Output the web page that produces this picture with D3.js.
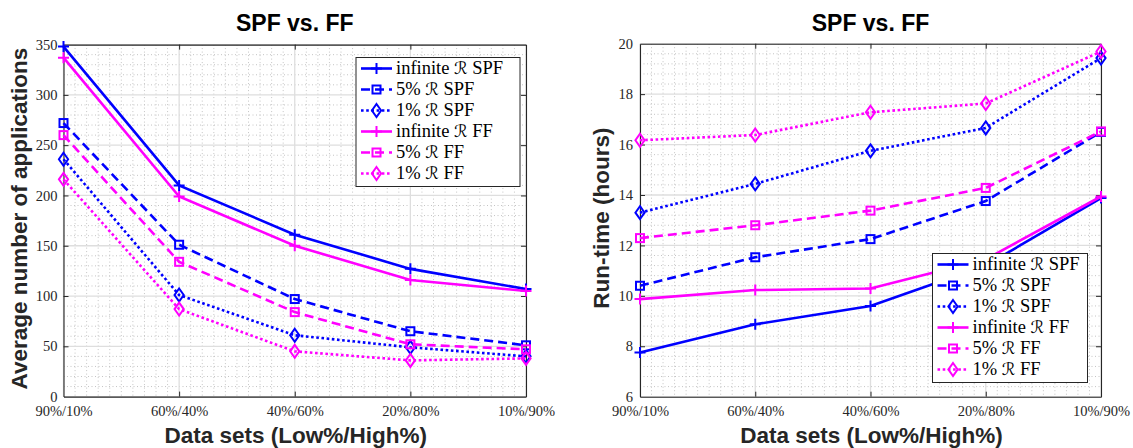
<!DOCTYPE html>
<html>
<head>
<meta charset="utf-8">
<script src="https://cdn.jsdelivr.net/npm/d3@7"></script>
<style>
  html, body { margin: 0; padding: 0; background: #ffffff; }
  svg { display: block; }
</style>
</head>
<body>
<svg id="chart" width="1133" height="448"></svg>
<script>
// Categories on the x axis (Low% / High% data sets)
const categories = ["90%/10%", "60%/40%", "40%/60%", "20%/80%", "10%/90%"];

// Series labels: prefix, script-R symbol, suffix
const seriesPrefix = ["infinite", "5%", "1%", "infinite", "5%", "1%"];
const seriesSuffix = ["SPF", "SPF", "SPF", "FF", "FF", "FF"];

// Average number of applications
const appsInfSPF = [348, 210, 161, 127, 107];
const apps5SPF   = [272, 151, 97, 65, 51];
const apps1SPF   = [236, 101, 61, 49, 40];
const appsInfFF  = [337, 199, 150, 116, 105];
const apps5FF    = [260, 134, 84, 52, 47];
const apps1FF    = [216, 87, 45, 36, 38];

// Run-time in hours
const timeInfSPF = [7.75, 8.87, 9.6, 11.2, 13.88];
const time5SPF   = [10.4, 11.53, 12.25, 13.76, 16.5];
const time1SPF   = [13.3, 14.44, 15.75, 16.66, 19.43];
const timeInfFF  = [9.87, 10.23, 10.29, 11.45, 13.94];
const time5FF    = [12.29, 12.8, 13.38, 14.28, 16.52];
const time1FF    = [16.17, 16.38, 17.28, 17.63, 19.69];

// Tick values
const appsTicks = [0, 50, 100, 150, 200, 250, 300, 350];
const timeTicks = [6, 8, 10, 12, 14, 16, 18, 20];

// Line styles per series
const colors  = ["#0000ff", "#0000ff", "#0000ff", "#ff00ff", "#ff00ff", "#ff00ff"];
const dashes  = [null, "9,5", "2.6,2.6", null, "9,5", "2.6,2.6"];
const markers = ["plus", "square", "diamond", "plus", "square", "diamond"];

const svg = d3.select("#chart");
const axisColor = "#262626";
const tickFont = "'Liberation Serif', 'DejaVu Serif', serif";
const boldFont = "'Liberation Sans', Arial, Helvetica, sans-serif";

function drawMarker(g, type, color) {
  if (type === "plus") {
    g.append("path").attr("d", "M-5.5,0H5.5M0,-5.5V5.5")
      .attr("stroke", color).attr("stroke-width", 2).attr("fill", "none");
  } else if (type === "square") {
    g.append("rect").attr("x", -4).attr("y", -4).attr("width", 8).attr("height", 8)
      .attr("stroke", color).attr("stroke-width", 2).attr("fill", "none");
  } else {
    g.append("path").attr("d", "M0,-6.5L4.6,0L0,6.5L-4.6,0Z")
      .attr("stroke", color).attr("stroke-width", 2).attr("fill", "none");
  }
}

function drawPanel(cfg) {
  const { left, right, top, bottom, domain, ticks, minorStep, series, legend, yLabel, yLabelX, tickGap } = cfg;
  const x = d3.scalePoint().domain(categories).range([left, right]).padding(0);
  const y = d3.scaleLinear().domain(domain).range([bottom, top]);
  const g = svg.append("g");

  // minor grid (dotted)
  const step = x(categories[1]) - x(categories[0]);
  const minorX = [];
  for (let i = 0; i < categories.length - 1; i++) {
    for (let k = 1; k < 10; k++) minorX.push(x(categories[i]) + step * k / 10);
  }
  g.selectAll(".mx").data(minorX).join("line")
    .attr("x1", d => d).attr("x2", d => d).attr("y1", top).attr("y2", bottom)
    .attr("stroke", "#c4c4c4").attr("stroke-width", 1).attr("stroke-dasharray", "1,2.5");
  const minorY = d3.range(domain[0], domain[1] + 1e-9, minorStep).filter(v => !ticks.some(t => Math.abs(t - v) < 1e-9));
  g.selectAll(".my").data(minorY).join("line")
    .attr("x1", left).attr("x2", right).attr("y1", d => y(d)).attr("y2", d => y(d))
    .attr("stroke", "#c4c4c4").attr("stroke-width", 1).attr("stroke-dasharray", "1,2.5");

  // major grid
  g.selectAll(".gx").data(categories).join("line")
    .attr("x1", d => x(d)).attr("x2", d => x(d)).attr("y1", top).attr("y2", bottom)
    .attr("stroke", "#dedede").attr("stroke-width", 1.3);
  g.selectAll(".gy").data(ticks).join("line")
    .attr("x1", left).attr("x2", right).attr("y1", d => y(d)).attr("y2", d => y(d))
    .attr("stroke", "#dedede").attr("stroke-width", 1.3);

  // axes (ticks pointing inward, box on all sides)
  const axB = g.append("g").attr("transform", `translate(0,${bottom})`)
    .call(d3.axisBottom(x).tickSizeInner(-5).tickSizeOuter(0).tickPadding(10));
  const axT = g.append("g").attr("transform", `translate(0,${top})`)
    .call(d3.axisTop(x).tickSizeInner(-5).tickSizeOuter(0).tickFormat(""));
  const axL = g.append("g").attr("transform", `translate(${left},0)`)
    .call(d3.axisLeft(y).tickValues(ticks).tickSizeInner(-5).tickSizeOuter(0).tickPadding(tickGap));
  const axR = g.append("g").attr("transform", `translate(${right},0)`)
    .call(d3.axisRight(y).tickValues(ticks).tickSizeInner(-5).tickSizeOuter(0).tickFormat(""));
  [axB, axT, axL, axR].forEach(a => {
    a.select(".domain").attr("stroke", axisColor).attr("stroke-width", 1.1);
    a.selectAll(".tick line").attr("stroke", axisColor).attr("stroke-width", 1);
    a.selectAll(".tick text").attr("fill", axisColor).attr("font-family", tickFont).attr("font-size", 14.5);
  });
  axB.selectAll(".tick text").attr("dy", "0.62em");
  // hide tick marks at box corners where they would overlap
  axL.selectAll(".tick line").filter(d => d === domain[0] || d === domain[1]).remove();
  axR.selectAll(".tick line").filter(d => d === domain[0] || d === domain[1]).remove();
  axB.selectAll(".tick line").filter((d, i) => i === 0 || i === categories.length - 1).remove();
  axT.selectAll(".tick line").filter((d, i) => i === 0 || i === categories.length - 1).remove();

  // data lines
  const line = d3.line().x((d, i) => x(categories[i])).y(d => y(d));
  series.forEach((vals, s) => {
    g.append("path").datum(vals).attr("d", line)
      .attr("fill", "none").attr("stroke", colors[s]).attr("stroke-width", 2.6)
      .attr("stroke-dasharray", dashes[s]).attr("stroke-linejoin", "miter");
    vals.forEach((v, i) => {
      const m = g.append("g").attr("transform", `translate(${x(categories[i])},${y(v)})`);
      drawMarker(m, markers[s], colors[s]);
    });
  });

  // title
  svg.append("text").attr("x", (left + right) / 2).attr("y", 31)
    .attr("text-anchor", "middle").attr("font-family", boldFont).attr("font-weight", "bold")
    .attr("font-size", 23).attr("fill", "#000").text("SPF vs. FF");
  // x label
  svg.append("text").attr("x", (left + right) / 2 + 1).attr("y", 443)
    .attr("text-anchor", "middle").attr("font-family", boldFont).attr("font-weight", "bold")
    .attr("font-size", 22.5).attr("fill", "#262626").text("Data sets (Low%/High%)");
  // y label
  svg.append("text").attr("transform", `translate(${yLabelX},${(top + bottom) / 2 - 2}) rotate(-90)`)
    .attr("text-anchor", "middle").attr("font-family", boldFont).attr("font-weight", "bold")
    .attr("font-size", 22.5).attr("fill", "#262626").text(yLabel);

  // legend
  const lg = svg.append("g").attr("transform", `translate(${legend.x},${legend.y})`);
  lg.append("rect").attr("x", 0).attr("y", 0).attr("width", legend.w).attr("height", 129)
    .attr("fill", "#ffffff").attr("stroke", axisColor).attr("stroke-width", 1);
  series.forEach((vals, s) => {
    const cy = 11 + s * 21;
    lg.append("line").attr("x1", 5).attr("x2", 36).attr("y1", cy).attr("y2", cy)
      .attr("stroke", colors[s]).attr("stroke-width", 2.6).attr("stroke-dasharray", dashes[s]);
    drawMarker(lg.append("g").attr("transform", `translate(20.5,${cy})`), markers[s], colors[s]);
    const t = lg.append("text").attr("x", 40).attr("y", cy + 5.5)
      .attr("font-family", tickFont).attr("font-size", 18.5).attr("fill", "#000");
    t.append("tspan").text(seriesPrefix[s] + " ");
    t.append("tspan").attr("font-family", "'DejaVu Serif', 'DejaVu Sans', serif").attr("font-style", "italic").attr("font-size", 17).text("ℛ");
    t.append("tspan").text(" " + seriesSuffix[s]);
  });
}

drawPanel({
  left: 63.5, right: 526, top: 44.6, bottom: 396.6,
  domain: [0, 350], ticks: appsTicks, minorStep: 10, tickGap: 6,
  series: [appsInfSPF, apps5SPF, apps1SPF, appsInfFF, apps5FF, apps1FF],
  legend: { x: 356, y: 57.5, w: 164 },
  yLabel: "Average number of applications", yLabelX: 27
});

drawPanel({
  left: 640, right: 1101, top: 43.7, bottom: 396.7,
  domain: [6, 20], ticks: timeTicks, minorStep: 0.4, tickGap: 7,
  series: [timeInfSPF, time5SPF, time1SPF, timeInfFF, time5FF, time1FF],
  legend: { x: 932.5, y: 253.5, w: 155 },
  yLabel: "Run-time (hours)", yLabelX: 609
});
</script>
</body>
</html>
